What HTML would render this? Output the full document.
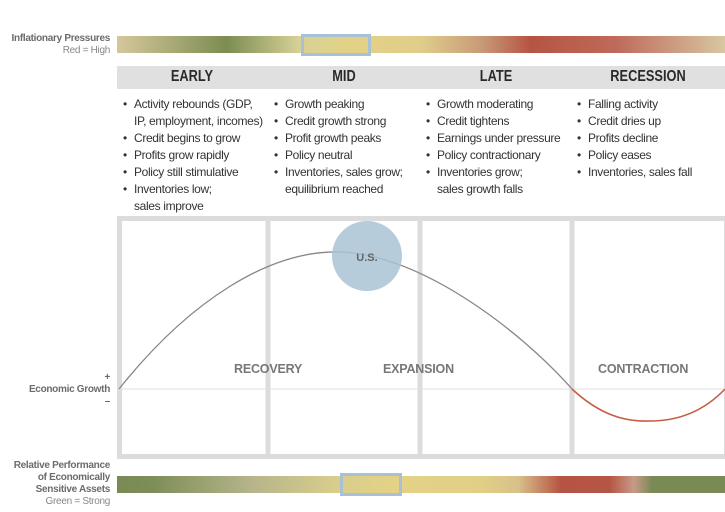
<!DOCTYPE html>
<html><head><style>
body{margin:0;width:725px;height:512px;background:#fff;position:relative;overflow:hidden;font-family:"Liberation Sans Narrow","Liberation Sans",sans-serif;}
.a{position:absolute}
.lbl{font-weight:bold;color:#6b6b6b;font-size:10px;letter-spacing:-0.3px;text-align:right;right:615px;line-height:12px}
.hd{top:66px;height:23px;background:#e1e0e1;left:117px;width:608px}
.hd div{position:absolute;top:2px;font-weight:bold;font-size:16px;color:#2a2a2a;width:150px;text-align:center;transform:scaleX(0.8)}
ul{position:absolute;top:96px;margin:0;padding:0;list-style:none;font-size:12px;letter-spacing:-0.35px;color:#333;line-height:17px;white-space:nowrap}
li{padding-left:11px;position:relative}
li:before{content:"•";position:absolute;left:0}
.ph{position:absolute;top:362px;font-weight:bold;font-size:12.5px;color:#777;letter-spacing:-0.2px}
</style></head><body>
<div class="a lbl" style="top:33px">Inflationary Pressures<br><span style="font-weight:normal;color:#888">Red = High</span></div>
<div class="a" style="left:117px;top:36px;width:608px;height:17px;background:linear-gradient(90deg,#d6c79a 0%,#7c8d52 18%,#d7d196 30%,#e3d286 38%,#e0cd8a 50%,#c89a78 60%,#b65443 68%,#be6a5a 82%,#d8c7a0 100%)"></div>
<div class="a" style="left:301px;top:34px;width:64px;height:16px;border:3px solid #a9c1d6"></div>
<div class="a hd"><div style="left:0">EARLY</div><div style="left:152px">MID</div><div style="left:304px">LATE</div><div style="left:456px">RECESSION</div></div>
<ul style="left:123px"><li>Activity rebounds (GDP,<br>IP, employment, incomes)</li><li>Credit begins to grow</li><li>Profits grow rapidly</li><li>Policy still stimulative</li><li>Inventories low;<br>sales improve</li></ul>
<ul style="left:274px"><li>Growth peaking</li><li>Credit growth strong</li><li>Profit growth peaks</li><li>Policy neutral</li><li>Inventories, sales grow;<br>equilibrium reached</li></ul>
<ul style="left:426px"><li>Growth moderating</li><li>Credit tightens</li><li>Earnings under pressure</li><li>Policy contractionary</li><li>Inventories grow;<br>sales growth falls</li></ul>
<ul style="left:577px"><li>Falling activity</li><li>Credit dries up</li><li>Profits decline</li><li>Policy eases</li><li>Inventories, sales fall</li></ul>
<svg class="a" style="left:0;top:0" width="725" height="512">
<g fill="none" stroke="#dcdcdc" stroke-width="5">
<rect x="119.5" y="218.5" width="607" height="238"/>
<line x1="268" y1="218" x2="268" y2="457"/><line x1="420" y1="218" x2="420" y2="457"/><line x1="572" y1="218" x2="572" y2="457"/>
</g>
<line x1="119" y1="389" x2="725" y2="389" stroke="#e0e0e0" stroke-width="1"/>
<path d="M119,389 C190,300 270,250 340,252 C420,254 520,330 572,389" fill="none" stroke="#8c8585" stroke-width="1.3"/>
<path d="M572,389 C600,415 625,422 650,421 C680,421 705,410 725,389" fill="none" stroke="#c65d44" stroke-width="1.6"/>
<circle cx="367" cy="256" r="35" fill="#a9c3d5" fill-opacity="0.85"/>
<text x="367" y="261" text-anchor="middle" font-family="Liberation Sans" font-weight="bold" font-size="11" fill="#666">U.S.</text>
</svg>
<div class="ph" style="left:234px">RECOVERY</div>
<div class="ph" style="left:383px">EXPANSION</div>
<div class="ph" style="left:598px">CONTRACTION</div>
<div class="a lbl" style="top:372px">+<br>Economic Growth<br>–</div>
<div class="a lbl" style="top:460px">Relative Performance<br>of Economically<br>Sensitive Assets<br><span style="font-weight:normal;color:#888">Green = Strong</span></div>
<div class="a" style="left:117px;top:476px;width:608px;height:17px;background:linear-gradient(90deg,#7a8a55 0%,#7e8e58 6%,#b6b48a 22%,#d9cd8c 36%,#e3d286 45%,#e2cf86 60%,#d8c08a 66%,#b65443 73%,#b55644 81%,#c89a88 85%,#7a8a55 88%,#7a8a55 100%)"></div>
<div class="a" style="left:340px;top:473px;width:56px;height:17px;border:3px solid #a9c1d6"></div>
</body></html>
